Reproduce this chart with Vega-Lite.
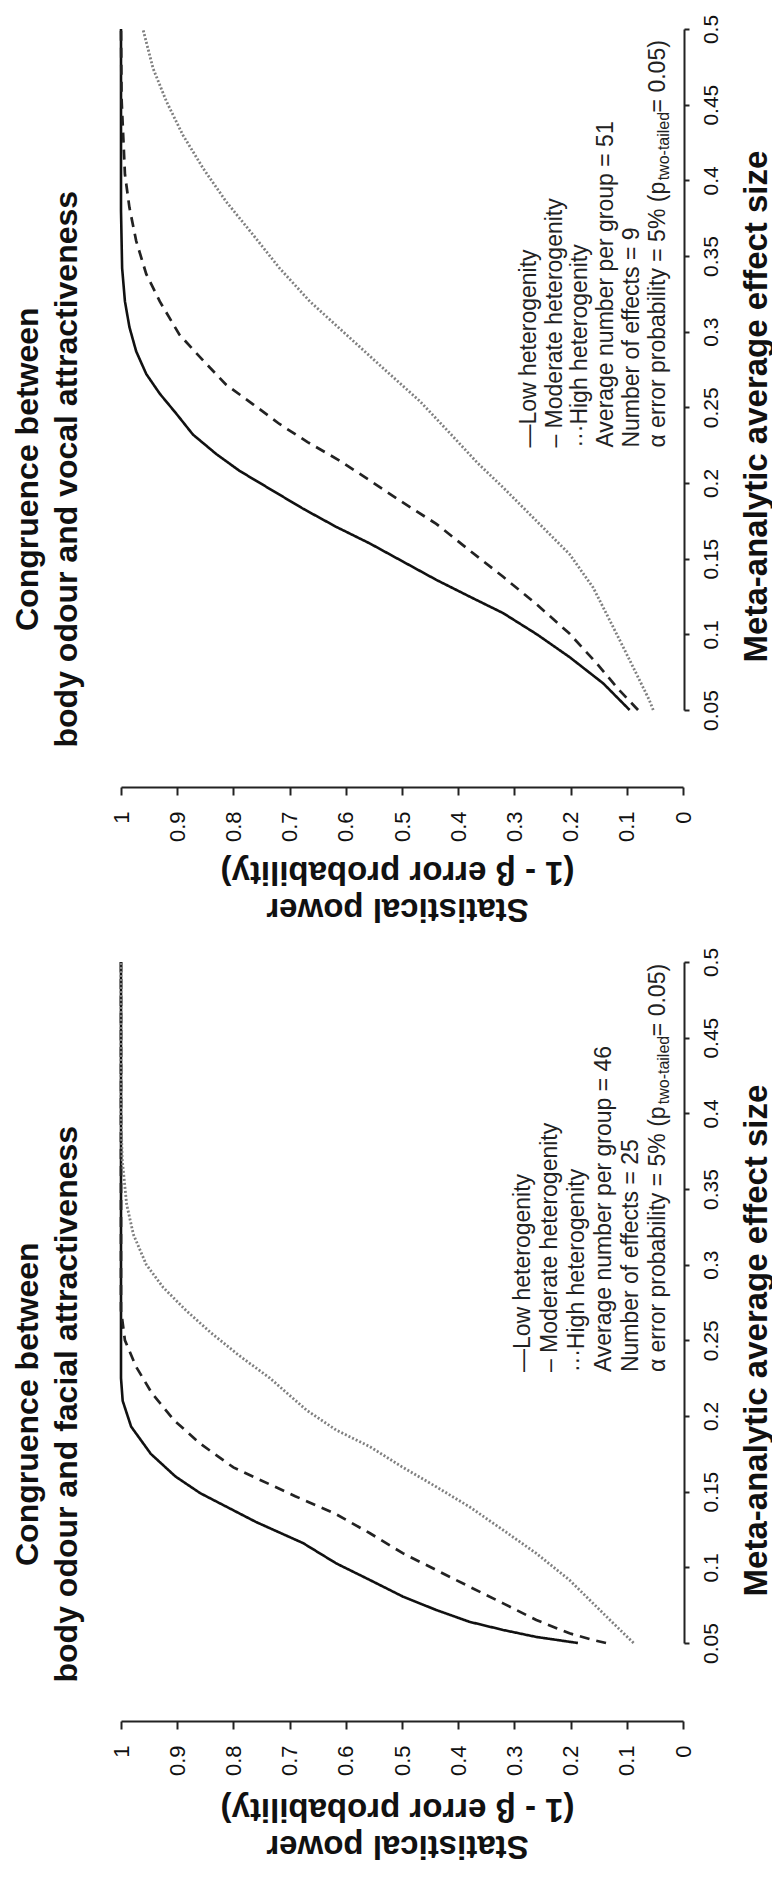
{
  "$schema": "https://vega.github.io/schema/vega-lite/v6.json",
  "background": "white",
  "padding": {"left": 11, "top": 14, "right": 2, "bottom": 20},
  "bounds": "flush",
  "spacing": 252,
  "config": {
    "font": "Liberation Sans",
    "view": {"stroke": null},
    "axis": {"grid": false, "domainColor": "#222", "tickColor": "#222", "domainWidth": 2, "tickWidth": 2, "labelColor": "#111", "titleColor": "#111", "labelFont": "Liberation Sans", "titleFont": "Liberation Sans"},
    "title": {"font": "Liberation Sans", "color": "#111"}
  },
  "datasets": {
    "curves": [
      {"g":"vocal","h":"Low","e":0.05,"p":0.095},{"g":"vocal","h":"Low","e":0.0676,"p":0.142},{"g":"vocal","h":"Low","e":0.085,"p":0.202},{"g":"vocal","h":"Low","e":0.1,"p":0.26},{"g":"vocal","h":"Low","e":0.114,"p":0.32},{"g":"vocal","h":"Low","e":0.125,"p":0.38},{"g":"vocal","h":"Low","e":0.136,"p":0.439},{"g":"vocal","h":"Low","e":0.148,"p":0.498},{"g":"vocal","h":"Low","e":0.16,"p":0.557},{"g":"vocal","h":"Low","e":0.171,"p":0.617},{"g":"vocal","h":"Low","e":0.183,"p":0.676},{"g":"vocal","h":"Low","e":0.208,"p":0.789},{"g":"vocal","h":"Low","e":0.219,"p":0.83},{"g":"vocal","h":"Low","e":0.232,"p":0.872},{"g":"vocal","h":"Low","e":0.246,"p":0.902},{"g":"vocal","h":"Low","e":0.259,"p":0.931},{"g":"vocal","h":"Low","e":0.272,"p":0.955},{"g":"vocal","h":"Low","e":0.287,"p":0.973},{"g":"vocal","h":"Low","e":0.303,"p":0.985},{"g":"vocal","h":"Low","e":0.32,"p":0.993},{"g":"vocal","h":"Low","e":0.342,"p":0.998},{"g":"vocal","h":"Low","e":0.38,"p":1.0},{"g":"vocal","h":"Low","e":0.5,"p":1.0},
      {"g":"vocal","h":"Moderate","e":0.05,"p":0.08},{"g":"vocal","h":"Moderate","e":0.063,"p":0.113},{"g":"vocal","h":"Moderate","e":0.081,"p":0.154},{"g":"vocal","h":"Moderate","e":0.1005,"p":0.202},{"g":"vocal","h":"Moderate","e":0.12,"p":0.261},{"g":"vocal","h":"Moderate","e":0.138,"p":0.32},{"g":"vocal","h":"Moderate","e":0.1555,"p":0.38},{"g":"vocal","h":"Moderate","e":0.173,"p":0.439},{"g":"vocal","h":"Moderate","e":0.187,"p":0.498},{"g":"vocal","h":"Moderate","e":0.2016,"p":0.557},{"g":"vocal","h":"Moderate","e":0.215,"p":0.612},{"g":"vocal","h":"Moderate","e":0.227,"p":0.668},{"g":"vocal","h":"Moderate","e":0.239,"p":0.718},{"g":"vocal","h":"Moderate","e":0.252,"p":0.765},{"g":"vocal","h":"Moderate","e":0.265,"p":0.813},{"g":"vocal","h":"Moderate","e":0.281,"p":0.854},{"g":"vocal","h":"Moderate","e":0.298,"p":0.896},{"g":"vocal","h":"Moderate","e":0.32,"p":0.931},{"g":"vocal","h":"Moderate","e":0.338,"p":0.955},{"g":"vocal","h":"Moderate","e":0.36,"p":0.973},{"g":"vocal","h":"Moderate","e":0.382,"p":0.985},{"g":"vocal","h":"Moderate","e":0.404,"p":0.993},{"g":"vocal","h":"Moderate","e":0.454,"p":0.999},{"g":"vocal","h":"Moderate","e":0.5,"p":1.0},
      {"g":"vocal","h":"High","e":0.05,"p":0.053},{"g":"vocal","h":"High","e":0.0566,"p":0.06},{"g":"vocal","h":"High","e":0.074,"p":0.083},{"g":"vocal","h":"High","e":0.092,"p":0.107},{"g":"vocal","h":"High","e":0.109,"p":0.13},{"g":"vocal","h":"High","e":0.131,"p":0.16},{"g":"vocal","h":"High","e":0.153,"p":0.202},{"g":"vocal","h":"High","e":0.175,"p":0.261},{"g":"vocal","h":"High","e":0.197,"p":0.32},{"g":"vocal","h":"High","e":0.213,"p":0.365},{"g":"vocal","h":"High","e":0.233,"p":0.415},{"g":"vocal","h":"High","e":0.254,"p":0.468},{"g":"vocal","h":"High","e":0.276,"p":0.534},{"g":"vocal","h":"High","e":0.298,"p":0.599},{"g":"vocal","h":"High","e":0.32,"p":0.664},{"g":"vocal","h":"High","e":0.342,"p":0.718},{"g":"vocal","h":"High","e":0.364,"p":0.765},{"g":"vocal","h":"High","e":0.386,"p":0.813},{"g":"vocal","h":"High","e":0.408,"p":0.854},{"g":"vocal","h":"High","e":0.43,"p":0.89},{"g":"vocal","h":"High","e":0.452,"p":0.919},{"g":"vocal","h":"High","e":0.474,"p":0.943},{"g":"vocal","h":"High","e":0.5,"p":0.961},
      {"g":"facial","h":"Low","e":0.05,"p":0.187},{"g":"facial","h":"Low","e":0.054,"p":0.261},{"g":"facial","h":"Low","e":0.0586,"p":0.32},{"g":"facial","h":"Low","e":0.064,"p":0.38},{"g":"facial","h":"Low","e":0.0718,"p":0.439},{"g":"facial","h":"Low","e":0.0806,"p":0.498},{"g":"facial","h":"Low","e":0.0916,"p":0.557},{"g":"facial","h":"Low","e":0.1026,"p":0.617},{"g":"facial","h":"Low","e":0.116,"p":0.676},{"g":"facial","h":"Low","e":0.13,"p":0.76},{"g":"facial","h":"Low","e":0.149,"p":0.859},{"g":"facial","h":"Low","e":0.16,"p":0.903},{"g":"facial","h":"Low","e":0.175,"p":0.947},{"g":"facial","h":"Low","e":0.193,"p":0.982},{"g":"facial","h":"Low","e":0.21,"p":0.997},{"g":"facial","h":"Low","e":0.225,"p":1.0},{"g":"facial","h":"Low","e":0.5,"p":1.0},
      {"g":"facial","h":"Moderate","e":0.05,"p":0.137},{"g":"facial","h":"Moderate","e":0.052,"p":0.16},{"g":"facial","h":"Moderate","e":0.0564,"p":0.202},{"g":"facial","h":"Moderate","e":0.0652,"p":0.261},{"g":"facial","h":"Moderate","e":0.0762,"p":0.32},{"g":"facial","h":"Moderate","e":0.0872,"p":0.38},{"g":"facial","h":"Moderate","e":0.0982,"p":0.439},{"g":"facial","h":"Moderate","e":0.1092,"p":0.498},{"g":"facial","h":"Moderate","e":0.1225,"p":0.557},{"g":"facial","h":"Moderate","e":0.1357,"p":0.62},{"g":"facial","h":"Moderate","e":0.147,"p":0.69},{"g":"facial","h":"Moderate","e":0.166,"p":0.8},{"g":"facial","h":"Moderate","e":0.182,"p":0.86},{"g":"facial","h":"Moderate","e":0.197,"p":0.905},{"g":"facial","h":"Moderate","e":0.215,"p":0.945},{"g":"facial","h":"Moderate","e":0.2325,"p":0.973},{"g":"facial","h":"Moderate","e":0.25,"p":0.993},{"g":"facial","h":"Moderate","e":0.27,"p":1.0},{"g":"facial","h":"Moderate","e":0.5,"p":1.0},
      {"g":"facial","h":"High","e":0.05,"p":0.088},{"g":"facial","h":"High","e":0.0652,"p":0.13},{"g":"facial","h":"High","e":0.0784,"p":0.166},{"g":"facial","h":"High","e":0.0916,"p":0.202},{"g":"facial","h":"High","e":0.1092,"p":0.261},{"g":"facial","h":"High","e":0.1246,"p":0.32},{"g":"facial","h":"High","e":0.14,"p":0.38},{"g":"facial","h":"High","e":0.1532,"p":0.439},{"g":"facial","h":"High","e":0.1664,"p":0.5},{"g":"facial","h":"High","e":0.1797,"p":0.557},{"g":"facial","h":"High","e":0.1907,"p":0.617},{"g":"facial","h":"High","e":0.2039,"p":0.67},{"g":"facial","h":"High","e":0.225,"p":0.735},{"g":"facial","h":"High","e":0.24,"p":0.79},{"g":"facial","h":"High","e":0.255,"p":0.84},{"g":"facial","h":"High","e":0.27,"p":0.885},{"g":"facial","h":"High","e":0.285,"p":0.925},{"g":"facial","h":"High","e":0.3,"p":0.955},{"g":"facial","h":"High","e":0.32,"p":0.978},{"g":"facial","h":"High","e":0.34,"p":0.99},{"g":"facial","h":"High","e":0.37,"p":0.998},{"g":"facial","h":"High","e":0.4,"p":1.0},{"g":"facial","h":"High","e":0.5,"p":1.0}
    ],
    "legend": [
      {"g":"vocal","label":"—Low heterogenity","p":0.274,"e":0.2234},
      {"g":"vocal","label":"– Moderate heterogenity","p":0.2278,"e":0.2234},
      {"g":"vocal","label":"···High heterogenity","p":0.1833,"e":0.2234},
      {"g":"vocal","label":"Average number per group = 51","p":0.137,"e":0.2234},
      {"g":"vocal","label":"Number of effects = 9","p":0.0907,"e":0.2234},
      {"g":"vocal","label":"α error probability = 5% (p","p":0.0445,"e":0.2234},
      {"g":"vocal","label":" = 0.05)","p":0.0445,"e":0.4449},
      {"g":"facial","label":"—Low heterogenity","p":0.2847,"e":0.229},
      {"g":"facial","label":"– Moderate heterogenity","p":0.2367,"e":0.229},
      {"g":"facial","label":"···High heterogenity","p":0.1886,"e":0.229},
      {"g":"facial","label":"Average number per group = 46","p":0.1406,"e":0.229},
      {"g":"facial","label":"Number of effects = 25","p":0.0925,"e":0.229},
      {"g":"facial","label":"α error probability = 5% (p","p":0.0445,"e":0.229},
      {"g":"facial","label":" = 0.05)","p":0.0445,"e":0.451}
    ],
    "sub": [
      {"g":"vocal","label":"two-tailed","p":0.0338,"e":0.4},
      {"g":"facial","label":"two-tailed","p":0.0338,"e":0.406}
    ]
  },
  "vconcat": [
    {
      "width": 562,
      "height": 681,
      "title": {"text": ["Congruence between", "body odour and vocal attractiveness"], "orient": "left", "anchor": "middle", "frame": "bounds", "fontSize": 32, "fontWeight": "bold", "lineHeight": 39, "offset": 26},
      "layer": [
        {
          "data": {"name": "curves"},
          "transform": [{"filter": "datum.g == 'vocal'"}],
          "mark": {"type": "line", "strokeCap": "butt"},
          "encoding": {
            "x": {"field": "p", "type": "quantitative", "scale": {"domain": [0, 1], "reverse": true, "nice": false, "zero": false},
              "axis": {"orient": "bottom", "offset": 77, "values": [0,0.1,0.2,0.3,0.4,0.5,0.6,0.7,0.8,0.9,1], "labelExpr": "format(datum.value, '.2~f')", "labelAngle": 270, "labelAlign": "right", "labelBaseline": "middle", "labelFontSize": 22, "labelPadding": 16, "tickSize": 8,
                "title": ["Statistical power", "(1 - β error probability)"], "titleAngle": 180, "titleFontSize": 33, "titleFontWeight": "bold", "titleLineHeight": 37, "titleAlign": "center", "titleBaseline": "middle", "titleX": 276, "titleY": 121}},
            "y": {"field": "e", "type": "quantitative", "scale": {"domain": [0.05, 0.5], "nice": false, "zero": false},
              "axis": {"orient": "right", "offset": 1, "values": [0.05,0.1,0.15,0.2,0.25,0.3,0.35,0.4,0.45,0.5], "labelExpr": "format(datum.value, '.2~f')", "labelAngle": 270, "labelAlign": "center", "labelBaseline": "top", "labelFontSize": 21, "labelPadding": 11, "tickSize": 5,
                "title": "Meta-analytic average effect size", "titleAngle": 270, "titleFontSize": 33, "titleFontWeight": "bold", "titleAlign": "center", "titleBaseline": "middle", "titleX": 72, "titleY": 377}},
            "order": {"field": "e", "type": "quantitative"},
            "color": {"field": "h", "type": "nominal", "scale": {"domain": ["Low","Moderate","High"], "range": ["#111111","#222222","#808080"]}, "legend": null},
            "strokeDash": {"field": "h", "type": "nominal", "scale": {"domain": ["Low","Moderate","High"], "range": [[1,0],[10,7],[2,2]]}, "legend": null},
            "strokeWidth": {"field": "h", "type": "nominal", "scale": {"domain": ["Low","Moderate","High"], "range": [2.6,2.8,1.7]}, "legend": null}
          }
        },
        {
          "data": {"name": "legend"},
          "transform": [{"filter": "datum.g == 'vocal'"}],
          "mark": {"type": "text", "angle": 270, "align": "left", "baseline": "middle", "fontSize": 23, "color": "#222"},
          "encoding": {
            "x": {"field": "p", "type": "quantitative"},
            "y": {"field": "e", "type": "quantitative"},
            "text": {"field": "label"}
          }
        },
        {
          "data": {"name": "sub"},
          "transform": [{"filter": "datum.g == 'vocal'"}],
          "mark": {"type": "text", "angle": 270, "align": "left", "baseline": "middle", "fontSize": 16, "color": "#222"},
          "encoding": {
            "x": {"field": "p", "type": "quantitative"},
            "y": {"field": "e", "type": "quantitative"},
            "text": {"field": "label"}
          }
        }
      ]
    },
    {
      "width": 562,
      "height": 681,
      "title": {"text": ["Congruence between", "body odour and facial attractiveness"], "orient": "left", "anchor": "middle", "frame": "bounds", "fontSize": 32, "fontWeight": "bold", "lineHeight": 39, "offset": 26},
      "layer": [
        {
          "data": {"name": "curves"},
          "transform": [{"filter": "datum.g == 'facial'"}],
          "mark": {"type": "line", "strokeCap": "butt"},
          "encoding": {
            "x": {"field": "p", "type": "quantitative", "scale": {"domain": [0, 1], "reverse": true, "nice": false, "zero": false},
              "axis": {"orient": "bottom", "offset": 78, "values": [0,0.1,0.2,0.3,0.4,0.5,0.6,0.7,0.8,0.9,1], "labelExpr": "format(datum.value, '.2~f')", "labelAngle": 270, "labelAlign": "right", "labelBaseline": "middle", "labelFontSize": 22, "labelPadding": 16, "tickSize": 8,
                "title": ["Statistical power", "(1 - β error probability)"], "titleAngle": 180, "titleFontSize": 33, "titleFontWeight": "bold", "titleLineHeight": 37, "titleAlign": "center", "titleBaseline": "middle", "titleX": 276, "titleY": 124}},
            "y": {"field": "e", "type": "quantitative", "scale": {"domain": [0.05, 0.5], "nice": false, "zero": false},
              "axis": {"orient": "right", "offset": 1, "values": [0.05,0.1,0.15,0.2,0.25,0.3,0.35,0.4,0.45,0.5], "labelExpr": "format(datum.value, '.2~f')", "labelAngle": 270, "labelAlign": "center", "labelBaseline": "top", "labelFontSize": 21, "labelPadding": 11, "tickSize": 5,
                "title": "Meta-analytic average effect size", "titleAngle": 270, "titleFontSize": 33, "titleFontWeight": "bold", "titleAlign": "center", "titleBaseline": "middle", "titleX": 72, "titleY": 378}},
            "order": {"field": "e", "type": "quantitative"},
            "color": {"field": "h", "type": "nominal", "scale": {"domain": ["Low","Moderate","High"], "range": ["#111111","#222222","#808080"]}, "legend": null},
            "strokeDash": {"field": "h", "type": "nominal", "scale": {"domain": ["Low","Moderate","High"], "range": [[1,0],[10,7],[2,2]]}, "legend": null},
            "strokeWidth": {"field": "h", "type": "nominal", "scale": {"domain": ["Low","Moderate","High"], "range": [2.6,2.8,1.7]}, "legend": null}
          }
        },
        {
          "data": {"name": "legend"},
          "transform": [{"filter": "datum.g == 'facial'"}],
          "mark": {"type": "text", "angle": 270, "align": "left", "baseline": "middle", "fontSize": 23, "color": "#222"},
          "encoding": {
            "x": {"field": "p", "type": "quantitative"},
            "y": {"field": "e", "type": "quantitative"},
            "text": {"field": "label"}
          }
        },
        {
          "data": {"name": "sub"},
          "transform": [{"filter": "datum.g == 'facial'"}],
          "mark": {"type": "text", "angle": 270, "align": "left", "baseline": "middle", "fontSize": 16, "color": "#222"},
          "encoding": {
            "x": {"field": "p", "type": "quantitative"},
            "y": {"field": "e", "type": "quantitative"},
            "text": {"field": "label"}
          }
        }
      ]
    }
  ]
}
